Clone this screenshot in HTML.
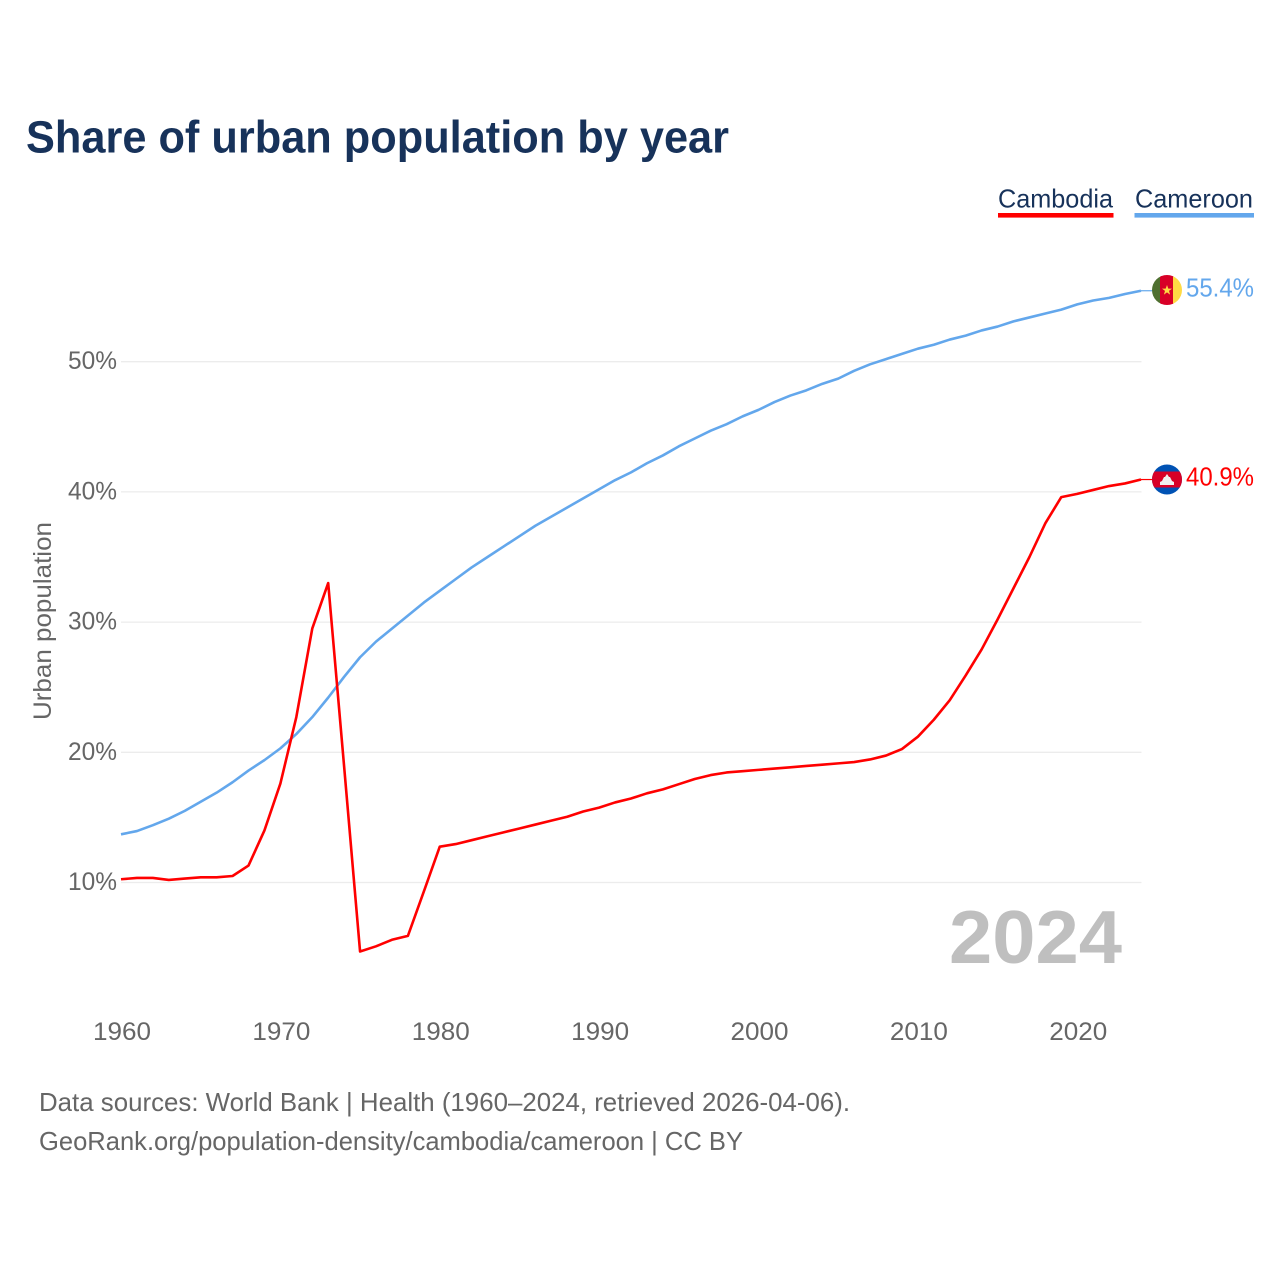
<!DOCTYPE html>
<html lang="en">
<head>
<meta charset="utf-8">
<title>Share of urban population by year</title>
<style>
html,body{margin:0;padding:0;background:#fff;width:1280px;height:1280px;overflow:hidden}
svg{display:block;font-family:"Liberation Sans",sans-serif}
</style>
</head>
<body>
<svg id="chart" width="1280" height="1280" viewBox="0 0 1280 1280" xmlns="http://www.w3.org/2000/svg">
  <defs>
    <clipPath id="clip-cm"><circle cx="1167" cy="290" r="15"/></clipPath>
    <clipPath id="clip-kh"><circle cx="1167" cy="479.5" r="15"/></clipPath>
  </defs>
  <rect width="1280" height="1280" fill="#fff"/>
  <text x="26" y="152.5" font-size="45" font-weight="700" fill="#17325a" textLength="703" lengthAdjust="spacingAndGlyphs">Share of urban population by year</text>

  <g>
    <g>
      <text x="998" y="207.5" font-size="26" fill="#17325a" textLength="115" lengthAdjust="spacingAndGlyphs">Cambodia</text>
      <rect x="998" y="213" width="115.5" height="4.6" fill="#ff0000"/>
    </g>
    <g>
      <text x="1135" y="207.5" font-size="26" fill="#17325a" textLength="118" lengthAdjust="spacingAndGlyphs">Cameroon</text>
      <rect x="1134.5" y="213" width="119.5" height="4.6" fill="#63a7ec"/>
    </g>
  </g>

  <g id="grid"></g>
  <g id="yticks"></g>
  <g id="xticks"></g>
  <text transform="translate(51,621) rotate(-90)" text-anchor="middle" font-size="25" fill="#666" textLength="198" lengthAdjust="spacingAndGlyphs">Urban population</text>

  <text x="1122" y="963" text-anchor="end" font-size="75" font-weight="700" fill="#bfbfbf" textLength="173" lengthAdjust="spacingAndGlyphs">2024</text>

  <g id="series"></g>

  <g clip-path="url(#clip-cm)">
    <rect x="1152" y="275" width="10" height="30" fill="#4f7030"/>
    <rect x="1160" y="275" width="14" height="30" fill="#d80027"/>
    <rect x="1173" y="275" width="10" height="30" fill="#ffda44"/>
    <polygon points="1167,285 1168.3,288.6 1172,288.6 1169,290.9 1170.1,294.6 1167,292.4 1163.9,294.6 1165,290.9 1162,288.6 1165.7,288.6" fill="#ffda44"/>
  </g>
  <g clip-path="url(#clip-kh)">
    <rect x="1152" y="464" width="30" height="31" fill="#0052b4"/>
    <rect x="1152" y="471.5" width="30" height="16" fill="#d80027"/>
    <polygon points="1160,485 1160,482 1162,481 1164,477 1165,477 1167,474 1169,477 1170,477 1172,481 1174,482 1174,485" fill="#f0f0f0"/>
  </g>
  <text id="end-cameroon" x="1186" y="296.5" font-size="26" fill="#63a7ec" textLength="68" lengthAdjust="spacingAndGlyphs"></text>
  <text id="end-cambodia" x="1186" y="485.5" font-size="26" fill="#ff0000" textLength="68" lengthAdjust="spacingAndGlyphs"></text>

  <text x="39" y="1111" font-size="26" fill="#666" textLength="811" lengthAdjust="spacingAndGlyphs">Data sources: World Bank | Health (1960–2024, retrieved 2026-04-06).</text>
  <text x="39" y="1150" font-size="26" fill="#666" textLength="704" lengthAdjust="spacingAndGlyphs">GeoRank.org/population-density/cambodia/cameroon | CC BY</text>
</svg>
<script>
const startYear = 1960;
const yTickValues = [10, 20, 30, 40, 50];
const xTickValues = [1960, 1970, 1980, 1990, 2000, 2010, 2020];
const cambodiaValues = [
  10.25,10.35,10.35,10.2,10.3,10.4,10.4,10.5,11.3,14.0,
  17.6,22.7,29.5,33.0,18.9,4.7,5.1,5.6,5.9,9.3,
  12.75,12.95,13.25,13.55,13.85,14.15,14.45,14.75,15.05,15.45,
  15.75,16.15,16.45,16.85,17.15,17.55,17.95,18.25,18.45,18.55,
  18.65,18.75,18.85,18.95,19.05,19.15,19.25,19.45,19.75,20.25,
  21.2,22.5,24.0,25.9,27.9,30.2,32.6,35.0,37.6,39.6,
  39.85,40.15,40.45,40.65,40.95
];
const cameroonValues = [
  13.7,13.95,14.4,14.9,15.5,16.2,16.9,17.7,18.6,19.4,
  20.3,21.4,22.7,24.2,25.8,27.3,28.5,29.5,30.5,31.5,
  32.4,33.3,34.2,35.0,35.8,36.6,37.4,38.1,38.8,39.5,
  40.2,40.9,41.5,42.2,42.8,43.5,44.1,44.7,45.2,45.8,
  46.3,46.9,47.4,47.8,48.3,48.7,49.3,49.8,50.2,50.6,
  51.0,51.3,51.7,52.0,52.4,52.7,53.1,53.4,53.7,54.0,
  54.4,54.7,54.9,55.2,55.45
];
const cambodiaEndLabel = "40.9%";
const cameroonEndLabel = "55.4%";

const NS = "http://www.w3.org/2000/svg";
function xScale(year) { return 121 + (year - 1960) * (1020 / 64); }
function yScale(v) { return 882.5 - (v - 10) * 13.02; }
function make(tag, attrs, parent) {
  const el = document.createElementNS(NS, tag);
  for (const k in attrs) el.setAttribute(k, attrs[k]);
  parent.appendChild(el);
  return el;
}
const gridG = document.getElementById("grid");
const yG = document.getElementById("yticks");
const xG = document.getElementById("xticks");
const seriesG = document.getElementById("series");

yTickValues.forEach(function (v) {
  const line = make("line", {x1: 121, x2: 1141.5, y1: yScale(v), y2: yScale(v), stroke: "#ececec", "stroke-width": 1.3}, gridG);
  
  
  const t = make("text", {x: 117, y: yScale(v) + 7.5, "text-anchor": "end", "font-size": 25, fill: "#666", textLength: 49, lengthAdjust: "spacingAndGlyphs"}, yG);
  
  
  t.textContent = v + "%";
});
xTickValues.forEach(function (y) {
  const t = make("text", {x: xScale(y) + 1, y: 1040, "text-anchor": "middle", "font-size": 25, fill: "#666", textLength: 58, lengthAdjust: "spacingAndGlyphs"}, xG);
  
  
  t.textContent = y;
});
function drawSeries(values, color, name) {
  const pts = values.map(function (v, i) { return xScale(startYear + i).toFixed(2) + "," + yScale(v).toFixed(2); }).join(" ");
  const line = make("polyline", {points: pts, fill: "none", stroke: color, "stroke-width": 2.6, "stroke-linejoin": "round"}, seriesG);
  
  
  const lastY = yScale(values[values.length - 1]);
  const conn = make("line", {x1: xScale(startYear + values.length - 1), x2: 1153, y1: lastY, y2: lastY, stroke: color, "stroke-width": 1.2}, seriesG);
  
  
}
drawSeries(cameroonValues, "#63a7ec", "line-cameroon");
drawSeries(cambodiaValues, "#ff0000", "line-cambodia");
document.getElementById("end-cameroon").textContent = cameroonEndLabel;
document.getElementById("end-cambodia").textContent = cambodiaEndLabel;
</script>
</body>
</html>
